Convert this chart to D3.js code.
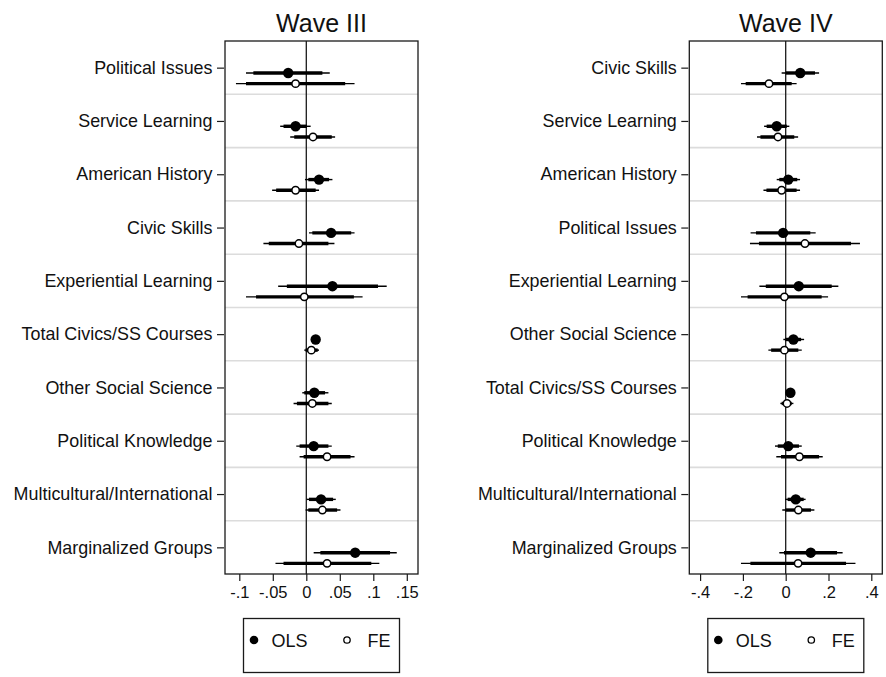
<!DOCTYPE html>
<html>
<head>
<meta charset="utf-8">
<script src="https://cdn.jsdelivr.net/npm/d3@7"></script>
<style>
  html, body { margin: 0; padding: 0; background: #fff; }
  svg { display: block; font-family: "Liberation Sans", Arial, Helvetica, sans-serif; }
</style>
</head>
<body>
<svg id="chart" width="886" height="677"></svg>
<script>
// ---- Data: Wave III ----
const w3Labels = ["Political Issues", "Service Learning", "American History", "Civic Skills",
  "Experiential Learning", "Total Civics/SS Courses", "Other Social Science",
  "Political Knowledge", "Multicultural/International", "Marginalized Groups"];
// [estimate, lo95, hi95, lo90, hi90]
const w3OLS = [
  [-0.027, -0.090, 0.035, -0.079, 0.024],
  [-0.016, -0.039, 0.0065, -0.034, 0.001],
  [0.019, -0.002, 0.039, 0.003, 0.034],
  [0.037, 0.004, 0.072, 0.009, 0.067],
  [0.039, -0.042, 0.120, -0.029, 0.107],
  [0.014, 0.010, 0.018, 0.011, 0.017],
  [0.012, -0.006, 0.033, -0.003, 0.028],
  [0.011, -0.015, 0.038, -0.010, 0.033],
  [0.022, 0.0005, 0.044, 0.004, 0.040],
  [0.073, 0.011, 0.135, 0.021, 0.125]
];
const w3FE = [
  [-0.016, -0.105, 0.072, -0.090, 0.058],
  [0.010, -0.024, 0.043, -0.018, 0.038],
  [-0.016, -0.051, 0.019, -0.045, 0.014],
  [-0.011, -0.064, 0.042, -0.056, 0.033],
  [-0.003, -0.090, 0.084, -0.075, 0.071],
  [0.0075, -0.003, 0.019, -0.001, 0.017],
  [0.009, -0.019, 0.038, -0.014, 0.033],
  [0.031, -0.010, 0.072, -0.004, 0.066],
  [0.024, -0.001, 0.051, 0.003, 0.046],
  [0.031, -0.046, 0.109, -0.034, 0.097]
];
const w3Ticks = [-0.1, -0.05, 0, 0.05, 0.1, 0.15];
const w3TickLabels = ["-.1", "-.05", "0", ".05", ".1", ".15"];

// ---- Data: Wave IV ----
const w4Labels = ["Civic Skills", "Service Learning", "American History", "Political Issues",
  "Experiential Learning", "Other Social Science", "Total Civics/SS Courses",
  "Political Knowledge", "Multicultural/International", "Marginalized Groups"];
const w4OLS = [
  [0.068, -0.019, 0.156, 0.000, 0.137],
  [-0.042, -0.101, 0.017, -0.089, 0.005],
  [0.012, -0.042, 0.067, -0.030, 0.054],
  [-0.012, -0.164, 0.140, -0.139, 0.115],
  [0.061, -0.123, 0.246, -0.093, 0.215],
  [0.036, -0.011, 0.086, -0.002, 0.072],
  [0.022, 0.012, 0.032, 0.014, 0.030],
  [0.012, -0.050, 0.075, -0.037, 0.062],
  [0.047, -0.002, 0.093, 0.009, 0.084],
  [0.117, -0.030, 0.266, -0.008, 0.240]
];
const w4FE = [
  [-0.078, -0.209, 0.051, -0.187, 0.028],
  [-0.036, -0.134, 0.058, -0.118, 0.040],
  [-0.019, -0.104, 0.067, -0.090, 0.051],
  [0.090, -0.167, 0.347, -0.125, 0.305],
  [-0.006, -0.209, 0.198, -0.178, 0.168],
  [-0.006, -0.081, 0.075, -0.068, 0.059],
  [0.006, -0.025, 0.036, -0.019, 0.028],
  [0.064, -0.044, 0.173, -0.022, 0.156],
  [0.059, -0.016, 0.134, -0.002, 0.118],
  [0.058, -0.209, 0.326, -0.165, 0.282]
];
const w4Ticks = [-0.4, -0.2, 0, 0.2, 0.4];
const w4TickLabels = ["-.4", "-.2", "0", ".2", ".4"];

const titles = ["Wave III", "Wave IV"];
const legendLabels = ["OLS", "FE"];

// ---- Drawing ----
const svg = d3.select("#chart");
const plotTop = 41, plotBottom = 574;

function panel(opts) {
  const { left, right, domain, labels, ols, fe, ticks, tickLabels, title } = opts;
  const g = svg.append("g");
  const x = d3.scaleLinear().domain(domain).range([left, right]);
  const y = d3.scaleBand().domain(labels).range([plotTop, plotBottom]).paddingInner(0).paddingOuter(0);
  const bw = y.bandwidth();

  // separators
  labels.slice(1).forEach(l => {
    g.append("line")
      .attr("x1", left).attr("x2", right)
      .attr("y1", y(l)).attr("y2", y(l))
      .attr("stroke", "#dcdcdc").attr("stroke-width", 1.6);
  });

  // zero line
  g.append("line")
    .attr("x1", x(0)).attr("x2", x(0))
    .attr("y1", plotTop).attr("y2", plotBottom)
    .attr("stroke", "#1a1a1a").attr("stroke-width", 1.3);

  // y axis ticks & labels
  const yAxis = d3.axisLeft(d3.scalePoint().domain(labels).range([plotTop + bw / 2, plotBottom - bw / 2]))
    .tickSize(7).tickPadding(4.5);
  const ya = g.append("g").attr("transform", `translate(${left - 1},0)`).call(yAxis);
  ya.select(".domain").remove();
  ya.selectAll(".tick line").attr("stroke", "#1a1a1a").attr("stroke-width", 1.2);
  ya.selectAll(".tick text").attr("font-size", 17.9).attr("fill", "#111")
    .attr("font-family", "'Liberation Sans', Arial, Helvetica, sans-serif");

  // x axis
  const xAxis = d3.axisBottom(x).tickValues(ticks).tickFormat((d, i) => tickLabels[i])
    .tickSize(7).tickPadding(5);
  const xa = g.append("g").attr("transform", `translate(0,${plotBottom})`).call(xAxis);
  xa.select(".domain").remove();
  xa.selectAll(".tick line").attr("stroke", "#1a1a1a").attr("stroke-width", 1.2);
  xa.selectAll(".tick text").attr("font-size", 16.5).attr("fill", "#111")
    .attr("font-family", "'Liberation Sans', Arial, Helvetica, sans-serif");

  // series
  const series = [
    { data: ols, off: 0.6, filled: true },
    { data: fe, off: 0.8, filled: false }
  ];
  series.forEach(s => {
    const sg = g.append("g");
    s.data.forEach((d, i) => {
      const yy = y(labels[i]) + bw * s.off;
      sg.append("line").attr("x1", x(d[1])).attr("x2", x(d[2]))
        .attr("y1", yy).attr("y2", yy).attr("stroke", "#000").attr("stroke-width", 1.4);
      sg.append("line").attr("x1", x(d[3])).attr("x2", x(d[4]))
        .attr("y1", yy).attr("y2", yy).attr("stroke", "#000").attr("stroke-width", 3.4);
      if (s.filled) {
        sg.append("circle").attr("cx", x(d[0])).attr("cy", yy).attr("r", 5.2).attr("fill", "#000");
      } else {
        sg.append("circle").attr("cx", x(d[0])).attr("cy", yy).attr("r", 3.7)
          .attr("fill", "#fff").attr("stroke", "#000").attr("stroke-width", 1.5);
      }
    });
  });

  // frame
  g.append("rect").attr("x", left).attr("y", plotTop)
    .attr("width", right - left).attr("height", plotBottom - plotTop)
    .attr("fill", "none").attr("stroke", "#1a1a1a").attr("stroke-width", 1.3);

  // title
  g.append("text").attr("x", (left + right) / 2).attr("y", 32)
    .attr("text-anchor", "middle").attr("font-size", 25).attr("fill", "#111").text(title);

  // legend
  const cx = (left + right) / 2;
  const lw = 156, lh = 54, lx = cx - lw / 2, ly = 618.5;
  const lg = g.append("g");
  lg.append("rect").attr("x", lx).attr("y", ly).attr("width", lw).attr("height", lh)
    .attr("fill", "#fff").attr("stroke", "#1a1a1a").attr("stroke-width", 1.3);
  lg.append("circle").attr("cx", lx + 10.5).attr("cy", ly + 21.5).attr("r", 4.3).attr("fill", "#000");
  lg.append("text").attr("x", lx + 28).attr("y", ly + 28).attr("font-size", 18).attr("fill", "#111")
    .text(legendLabels[0]);
  lg.append("circle").attr("cx", lx + 103.5).attr("cy", ly + 21.5).attr("r", 3.2)
    .attr("fill", "#fff").attr("stroke", "#000").attr("stroke-width", 1.3);
  lg.append("text").attr("x", lx + 124).attr("y", ly + 28).attr("font-size", 18).attr("fill", "#111")
    .text(legendLabels[1]);
}

// Wave III: 0 at 306.3, 670 px per unit
panel({ left: 225, right: 418, domain: [(225 - 306.3) / 670, (418 - 306.3) / 670],
  labels: w3Labels, ols: w3OLS, fe: w3FE, ticks: w3Ticks, tickLabels: w3TickLabels, title: titles[0] });
// Wave IV: 0 at 785.7, 214 px per unit
panel({ left: 689.3, right: 882.3, domain: [(689.3 - 785.7) / 214, (882.3 - 785.7) / 214],
  labels: w4Labels, ols: w4OLS, fe: w4FE, ticks: w4Ticks, tickLabels: w4TickLabels, title: titles[1] });
</script>
</body>
</html>
